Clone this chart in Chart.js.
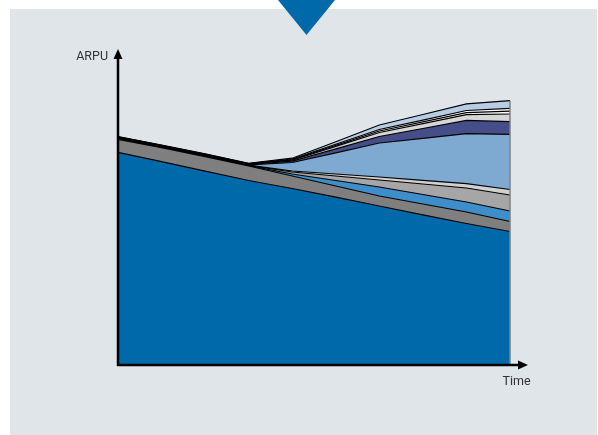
<!DOCTYPE html>
<html>
<head>
<meta charset="utf-8">
<script src="https://cdn.jsdelivr.net/npm/chart.js@4/dist/chart.umd.min.js"></script>
<style>
html, body { margin: 0; padding: 0; background: #fff; }
canvas { display: block; }
</style>
</head>
<body>
<canvas id="arpu-chart" width="598" height="435"></canvas>
<script>
// time steps (no tick labels shown on the chart)
var periods = ['1', '2', '3', '4', '5', '6', '7', '8', '9', '10'];

// stacked layers, bottom to top
var baseArpu    = [212.7, 203.3, 193.9, 184.5, 176.5, 167.8, 159, 150.2, 141.5, 133.5];
var greyBand    = [13, 14, 14.5, 14.5, 12.5, 11.2, 10, 10.8, 11.5, 10];
var blueBand    = [0.3, 0.3, 0.3, 0.3, 2, 5.5, 9, 9.5, 10, 10.5];
var midGrey     = [0.3, 0.3, 0.3, 0.3, 2, 4.5, 7, 10.5, 14, 16];
var lightGrey   = [0.3, 0.3, 0.3, 0.3, 1, 2, 3, 3.6, 4.3, 5.5];
var newServices = [0.3, 0.3, 0.3, 0.3, 8.5, 21.2, 34, 42, 50, 55.2];
var navyBand    = [0.3, 0.3, 0.3, 0.3, 1.3, 3.9, 6.5, 9.9, 13.3, 12.6];
var paleGrey    = [0.3, 0.3, 0.3, 0.3, 1, 2.5, 4, 4.8, 5.7, 7.7];
var thinA       = [0.3, 0.3, 0.3, 0.3, 0.6, 1.05, 1.5, 1.8, 2.1, 2.85];
var thinB       = [0.3, 0.3, 0.3, 0.3, 0.6, 1.05, 1.5, 1.8, 2.1, 2.85];
var paleBlue    = [0.3, 0.3, 0.3, 0.3, 0.8, 2.6, 4.5, 5.6, 6.7, 7.6];

var layers = [baseArpu, greyBand, blueBand, midGrey, lightGrey, newServices, navyBand, paleGrey, thinA, thinB, paleBlue];
var colours = ['#0069aa', '#7f7f7f', '#3d8ec9', '#a6a6a6', '#d0d0d0', '#7eaad2', '#464e8a', '#d6d6d6', '#ffffff', '#ffffff', '#b7cde6'];

var datasets = layers.map(function (d, i) {
    return {
        data: d,
        backgroundColor: colours[i],
        borderColor: '#000',
        borderWidth: 1.2,
        fill: i === 0 ? 'origin' : '-1',
        pointRadius: 0,
        tension: 0
    };
});

var decor = {
    id: 'decor',
    beforeDraw: function (chart) {
        var c = chart.ctx;
        c.save();
        c.fillStyle = '#e0e5e9';
        c.fillRect(10, 9, 587, 426);
        c.restore();
    },
    afterDraw: function (chart) {
        var c = chart.ctx, a = chart.chartArea;
        var xs = chart.scales.x, ys = chart.scales.y;
        var last = periods.length - 1;
        var total = 0;
        layers.forEach(function (d) { total += d[last]; });
        c.save();

        // grey edge on the right of the stack
        c.strokeStyle = '#7f7f7f';
        c.lineWidth = 1.5;
        c.beginPath();
        c.moveTo(xs.getPixelForValue(last), ys.getPixelForValue(total));
        c.lineTo(xs.getPixelForValue(last), a.bottom);
        c.stroke();

        // axes with arrows
        c.strokeStyle = '#000';
        c.fillStyle = '#000';
        c.lineWidth = 2.5;
        c.beginPath();
        c.moveTo(a.left, a.bottom + 1);
        c.lineTo(a.left, a.top + 8);
        c.moveTo(a.left - 1, a.bottom);
        c.lineTo(a.right + 10, a.bottom);
        c.stroke();
        c.beginPath();
        c.moveTo(a.left, a.top);
        c.lineTo(a.left - 4.5, a.top + 10);
        c.lineTo(a.left + 4.5, a.top + 10);
        c.closePath();
        c.fill();
        c.beginPath();
        c.moveTo(a.right + 18, a.bottom);
        c.lineTo(a.right + 8, a.bottom - 4.5);
        c.lineTo(a.right + 8, a.bottom + 4.5);
        c.closePath();
        c.fill();

        // labels
        c.fillStyle = '#333';
        c.font = '12.5px Roboto';
        c.textAlign = 'right';
        c.fillText('ARPU', a.left - 10, a.top + 11);
        c.textAlign = 'left';
        c.fillText('Time', a.right - 7.5, a.bottom + 20);

        // marker triangle at the top
        c.fillStyle = '#0069aa';
        c.beginPath();
        c.moveTo(278, 0);
        c.lineTo(335, 0);
        c.lineTo(306.5, 35);
        c.closePath();
        c.fill();
        c.restore();
    }
};

var ctx = document.getElementById('arpu-chart').getContext('2d');
var myChart = new Chart(ctx, {
    type: 'line',
    data: {
        labels: periods,
        datasets: datasets
    },
    options: {
        responsive: false,
        animation: false,
        devicePixelRatio: 1,
        layout: {
            padding: { left: 118, right: 88, top: 49, bottom: 70 }
        },
        scales: {
            x: { display: false, offset: false },
            y: { display: false, stacked: true, min: 0, max: 316 }
        },
        plugins: {
            legend: { display: false },
            tooltip: { enabled: false }
        }
    },
    plugins: [decor]
});
</script>
</body>
</html>
